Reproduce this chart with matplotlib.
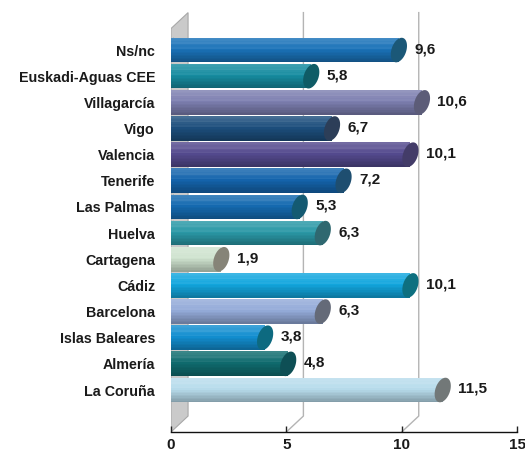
import matplotlib
matplotlib.use('Agg')
import matplotlib.pyplot as plt
import numpy as np
from matplotlib.patches import Polygon, Rectangle
from matplotlib.colors import to_rgb

# data, top to bottom as in the chart
categories = ['Ns/nc', 'Euskadi-Aguas CEE', 'Villagarcía', 'Vigo', 'Valencia',
              'Tenerife', 'Las Palmas', 'Huelva', 'Cartagena', 'Cádiz',
              'Barcelona', 'Islas Baleares', 'Almería', 'La Coruña']
values = [9.6, 5.8, 10.6, 6.7, 10.1, 7.2, 5.3, 6.3, 1.9, 10.1, 6.3, 3.8, 4.8, 11.5]
bar_colors = ['#1a72b8', '#168ca0', '#7d7fb0', '#1c4e7c', '#544a8e', '#1464ac', '#156ab0',
              '#2a98a6', '#cfe3cf', '#12a6de', '#93aad8', '#128ed0', '#0f6b6e', '#b8dcec']
cap_colors = ['#1b5878', '#0f5c66', '#5c5c78', '#2c3e58', '#433c68', '#1e4e70', '#145a72',
              '#2f6870', '#868478', '#0e7080', '#646a78', '#0d6a80', '#0e4f55', '#727878']
xticks = [0, 5, 10, 15]

plt.rcParams['font.family'] = ['Liberation Sans', 'DejaVu Sans']

W, H = 525, 455
fig = plt.figure(figsize=(W / 100, H / 100), dpi=100)
ax = fig.add_axes([171 / W, 23 / H, 346 / W, 422 / H])

n = len(categories)
ypos = np.arange(n)[::-1]          # top category gets the highest y
ylo, yhi = -1.606, -1.606 + 422 / 26.15
ax.set_xlim(0, 15)
ax.set_ylim(ylo, yhi)

# 3d depth offsets (data units)
dx, dy = 0.74, 0.61
ytop = yhi - 0.1

# back wall on the left
wall = Polygon([(0, ylo), (dx, ylo + dy), (dx, ytop), (0, ytop - dy)],
               closed=True, facecolor='#cacaca', edgecolor='#a8a8a8', lw=0.8, zorder=1)
ax.add_patch(wall)

# grid lines in the back plane
for t in xticks[1:]:
    ax.plot([t, t + dx, t + dx], [ylo, ylo + dy, ytop], color='#b4b4b4', lw=1.0,
            zorder=1, clip_on=True)

bh = 0.94
off = 0.28
capw = 0.33
shear = 0.12
profile = np.linspace(0, 1, 16)


def shade(c, t):
    c = np.array(to_rgb(c))
    # t: 0 bottom, 1 top
    if t > 0.55:
        k = (t - 0.55) / 0.45
        return tuple(c + (1 - c) * (0.18 * k + 0.05 * ((int(t * 16) % 3) == 0)))
    k = (0.55 - t) / 0.55
    return tuple(c * (1 - 0.28 * k))


for y, v, col, ccol in zip(ypos, values, bar_colors, cap_colors):
    xe = v + off
    # left rounded end
    tt = np.linspace(np.pi / 2, 3 * np.pi / 2, 30)
    left = np.column_stack([capw * 0.6 * np.cos(tt) + shear * np.sin(tt),
                            y + bh / 2 * np.sin(tt)])
    ax.add_patch(Polygon(left, closed=True, facecolor=shade(col, 0.45), edgecolor='none', zorder=2))
    # body in horizontal stripes
    sh = bh / len(profile)
    for i, t in enumerate(profile):
        ax.add_patch(Rectangle((0, y - bh / 2 + i * sh), xe, sh * 1.05,
                               facecolor=shade(col, t), edgecolor='none', zorder=3))
    # end cap
    tt = np.linspace(0, 2 * np.pi, 60)
    cap = np.column_stack([xe + capw * np.cos(tt) + shear * np.sin(tt),
                           y + bh / 2 * np.sin(tt)])
    ax.add_patch(Polygon(cap, closed=True, facecolor=ccol, edgecolor='none', zorder=4))
    ax.text(v + 0.95, y + 0.04, f'{v:.1f}'.replace('.', ','), ha='left', va='center',
            fontsize=11, fontweight='bold', color='#1a1a1a', zorder=5)

ax.set_yticks(ypos)
ax.set_yticklabels(categories, fontsize=10.3, fontweight='bold', color='#1a1a1a')
ax.tick_params(axis='y', length=0, pad=11.5)
ax.set_xticks(xticks)
ax.set_xticklabels([str(t) for t in xticks], fontsize=11, fontweight='bold', color='#1a1a1a')
ax.tick_params(axis='x', direction='in', length=4, width=1, color='#222222', pad=4)

for s in ['top', 'right', 'left']:
    ax.spines[s].set_visible(False)
ax.spines['bottom'].set_color('#111111')
ax.spines['bottom'].set_linewidth(1.0)
ax.set_facecolor('white')

fig.savefig('out.png', dpi=100, facecolor='white')
